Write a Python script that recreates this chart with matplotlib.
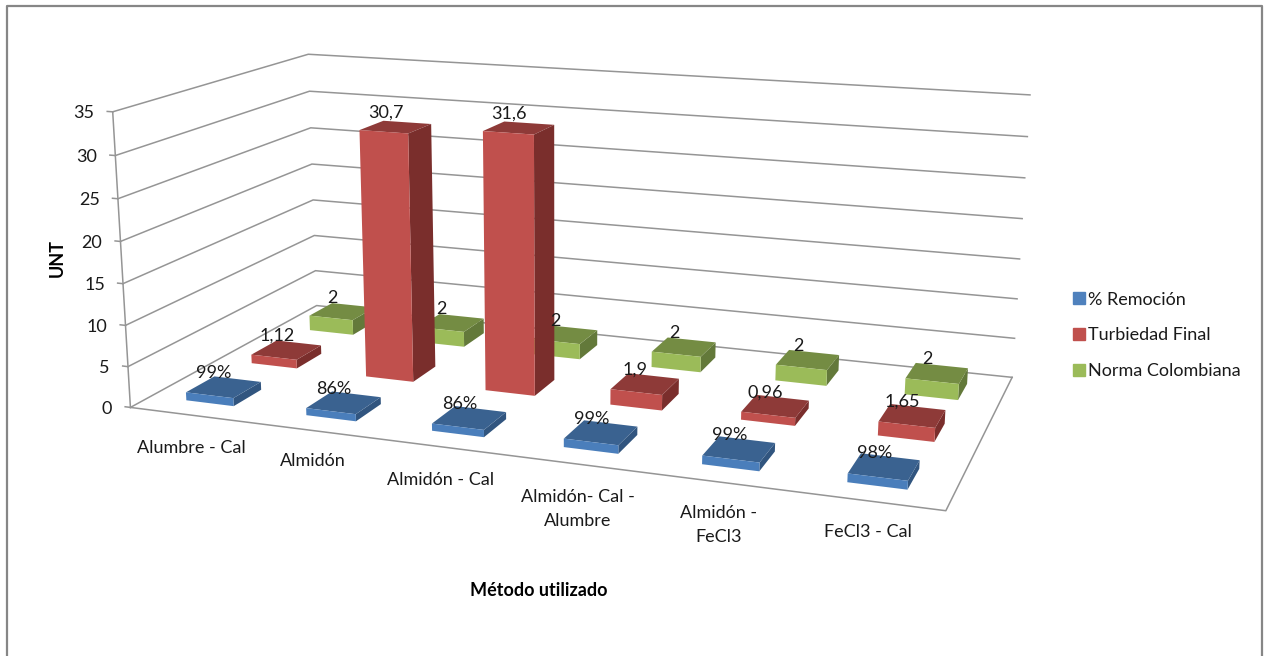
import numpy as np
import matplotlib
matplotlib.use('Agg')
import matplotlib.pyplot as plt
from matplotlib.lines import Line2D
from matplotlib.patches import Patch
from mpl_toolkits.mplot3d import proj3d

plt.rcParams['font.family'] = ['Lato', 'DejaVu Sans']

categories = ['Alumbre - Cal', 'Almidón', 'Almidón - Cal',
              'Almidón- Cal -\nAlumbre', 'Almidón -\nFeCl3', 'FeCl3 - Cal']
remocion = [0.99, 0.86, 0.86, 0.99, 0.99, 0.98]
turbiedad = [1.12, 30.7, 31.6, 1.9, 0.96, 1.65]
norma = [2, 2, 2, 2, 2, 2]
series_names = ['% Remoción', 'Turbiedad Final', 'Norma Colombiana']
yticks = [0, 5, 10, 15, 20, 25, 30, 35]

W, H = 1264, 656
n_cat, n_ser, zmax = len(categories), len(series_names), yticks[-1]

# box corners in data units and where they land on the canvas (pixels from top left)
box_pts = [(0, 0, 0), (n_cat, 0, 0), (n_cat, n_ser, 0), (0, n_ser, 0),
           (0, 0, zmax), (0, n_ser, zmax), (n_cat, n_ser, zmax)]
box_px = [(130, 407), (946, 511), (1012, 377), (317, 306),
          (113, 112), (308, 54), (1030, 95)]

# front, top, right side of each series
colors = {0: ('#4A7EBB', '#3A6290', '#31557F'),
          1: ('#C0504D', '#8E3A38', '#7A2E2C'),
          2: ('#9BBB59', '#748C43', '#63793A')}
legend_colors = ['#4F81BD', '#C0504D', '#9BBB59']
clear = (1, 1, 1, 0)
bar_w, bar_d = 0.4, 0.42
grid_col = '#959595'
txt_col = '#1A1A1A'

fig = plt.figure(figsize=(W / 100, H / 100), dpi=100, facecolor='white')
ax = fig.add_axes([0, 0, 1, 1], projection='3d', computed_zorder=False)
ax.set_axis_off()
ax.set_proj_type('ortho')  # stops mplot3d clipping points by depth
ax.apply_aspect = lambda position=None: None  # keep the full canvas, box is not square


def fit_projection():
    # camera matrix from the box corners (direct linear transform)
    inv = ax.transData.inverted()
    rows = []
    for (X, Y, Z), (px, py) in zip(box_pts, box_px):
        u, v = inv.transform((px, H - py))
        rows.append([X, Y, Z, 1, 0, 0, 0, 0, -u * X, -u * Y, -u * Z, -u])
        rows.append([0, 0, 0, 0, X, Y, Z, 1, -v * X, -v * Y, -v * Z, -v])
    p = np.linalg.svd(np.array(rows))[2][-1].reshape(3, 4)
    return np.array([p[0], p[1], [0, 1, 0, 0], p[2]])


M = fit_projection()
ax.get_proj = lambda: M


def to2d(x, y, z):
    x2, y2, _ = proj3d.proj_transform(x, y, z, M)
    return x2, y2


# walls and floor
for z in yticks:
    ax.plot([0, 0, n_cat], [0, n_ser, n_ser], [z, z, z], color=grid_col, lw=1.1, zorder=1)
    ax.plot([0, -0.045], [0, 0], [z, z], color=grid_col, lw=1.1, zorder=1)
    ax.annotate(str(z), to2d(0, 0, z), xytext=(-13, -1), textcoords='offset points',
                ha='right', va='center', fontsize=13, color=txt_col, annotation_clip=False)
ax.plot([0, 0], [0, 0], [0, zmax], color=grid_col, lw=1.1, zorder=1)
ax.plot([0, n_cat, n_cat], [0, 0, n_ser], [0, 0, 0], color=grid_col, lw=1.1, zorder=1)

# bars, back row first so the front rows cover it
fmt = [lambda v: f'{v:.0%}', lambda v: str(v).replace('.', ','), str]
for s, vals in reversed(list(enumerate([remocion, turbiedad, norma]))):
    front, top, side = colors[s]
    faces = [clear, top, front, clear, clear, side]  # -z, +z, -y, +y, -x, +x
    for i, v in enumerate(vals):
        x0, y0 = i + 0.5 - bar_w / 2, s + 0.5 - bar_d / 2
        ax.bar3d(x0, y0, 0, bar_w, bar_d, v, color=faces, shade=False,
                 linewidth=0, zorder=5 - s)
        ax.annotate(fmt[s](v), to2d(i + 0.5, s + 0.5, v), xytext=(-7, 10),
                    textcoords='offset points', ha='center', va='center',
                    fontsize=13, color=txt_col, zorder=10, annotation_clip=False)

# category labels sit below the front edge
cat_px = [(191, 448), (313, 461), (441, 480), (578, 509), (719, 525), (868, 532)]
for name, (px, py) in zip(categories, cat_px):
    fig.text(px / W, 1 - py / H, name, ha='center', va='center', fontsize=13,
             color=txt_col, linespacing=1.6)

fig.text(57 / W, 1 - 258 / H, 'UNT', rotation=90, ha='center', va='center',
         fontsize=13, fontweight='bold', color='black')
fig.text(539 / W, 1 - 590 / H, 'Método utilizado', ha='center', va='center',
         fontsize=13, fontweight='bold', color='black')

handles = [Patch(color=c, label=n) for c, n in zip(legend_colors, series_names)]
fig.legend(handles=handles, loc='center left', bbox_to_anchor=(1057 / W, 1 - 335.5 / H),
           frameon=False, fontsize=13, handlelength=0.67, handleheight=0.67,
           handletextpad=0.15, labelspacing=1.1, labelcolor=txt_col)

# chart frame, open at the bottom
frame = [(7, H), (7, 6), (1262, 6), (1262, H)]
fig.add_artist(Line2D([p[0] / W for p in frame], [1 - p[1] / H for p in frame],
                      color='#868686', lw=1.6))

fig.savefig('out.png', dpi=100)
